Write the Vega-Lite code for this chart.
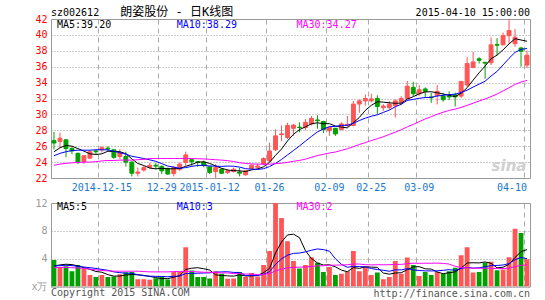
{
  "$schema": "https://vega.github.io/schema/vega-lite/v6.json",
  "background": "white",
  "padding": {"left": 30, "top": 5, "right": 5, "bottom": 0},
  "config": {
    "view": {"stroke": "#999999", "strokeWidth": 1},
    "axis": {"labelFont": "DejaVu Sans Mono", "labelFontSize": 10, "ticks": false, "domain": false, "title": null, "labelOverlap": false},
    "text": {"font": "DejaVu Sans Mono", "fontSize": 10}
  },
  "datasets": {
    "k": [
      {"d":"2014-12-03","o":26.7,"h":27.8,"l":25.6,"c":26.4,"v":3.8,"m5":25.3,"m10":24.8,"m30":23.6,"vm5":2.95,"vm10":2.95,"vm30":2.7},
      {"d":"2014-12-04","o":26.6,"h":27.7,"l":25.8,"c":27.0,"v":2.8,"m5":25.8,"m10":25.1,"m30":23.75,"vm5":3.1,"vm10":3.0,"vm30":2.75},
      {"d":"2014-12-05","o":26.8,"h":26.9,"l":24.6,"c":25.7,"v":2.9,"m5":26.1,"m10":25.3,"m30":23.85,"vm5":3.2,"vm10":3.05,"vm30":2.75},
      {"d":"2014-12-08","o":25.7,"h":25.95,"l":25.0,"c":25.4,"v":2.2,"m5":26.0,"m10":25.45,"m30":23.9,"vm5":3.15,"vm10":3.0,"vm30":2.7},
      {"d":"2014-12-09","o":25.1,"h":25.2,"l":23.75,"c":24.0,"v":3.1,"m5":25.7,"m10":25.5,"m30":23.95,"vm5":2.96,"vm10":2.9,"vm30":2.65},
      {"d":"2014-12-10","o":24.05,"h":24.9,"l":23.75,"c":24.8,"v":2.5,"m5":25.38,"m10":25.5,"m30":24.0,"vm5":2.7,"vm10":2.8,"vm30":2.6},
      {"d":"2014-12-11","o":24.5,"h":25.5,"l":24.4,"c":25.3,"v":1.65,"m5":25.04,"m10":25.5,"m30":24.0,"vm5":2.47,"vm10":2.7,"vm30":2.5},
      {"d":"2014-12-12","o":25.4,"h":25.6,"l":25.0,"c":25.3,"v":1.35,"m5":24.96,"m10":25.55,"m30":24.05,"vm5":2.16,"vm10":2.6,"vm30":2.4},
      {"d":"2014-12-15","o":25.55,"h":26.0,"l":25.2,"c":25.8,"v":1.65,"m5":25.04,"m10":25.55,"m30":24.15,"vm5":2.05,"vm10":2.45,"vm30":2.3},
      {"d":"2014-12-16","o":25.75,"h":26.0,"l":25.3,"c":25.65,"v":1.35,"m5":25.37,"m10":25.54,"m30":24.2,"vm5":1.7,"vm10":2.33,"vm30":2.25},
      {"d":"2014-12-17","o":25.55,"h":25.6,"l":24.4,"c":24.6,"v":1.45,"m5":25.33,"m10":25.36,"m30":24.2,"vm5":1.49,"vm10":2.1,"vm30":2.2},
      {"d":"2014-12-18","o":24.7,"h":25.6,"l":24.4,"c":25.2,"v":1.75,"m5":25.31,"m10":25.18,"m30":24.25,"vm5":1.51,"vm10":1.99,"vm30":2.2},
      {"d":"2014-12-19","o":24.7,"h":25.3,"l":23.45,"c":24.0,"v":2.05,"m5":25.05,"m10":25.0,"m30":24.25,"vm5":1.65,"vm10":1.91,"vm30":2.2},
      {"d":"2014-12-22","o":24.0,"h":24.1,"l":22.2,"c":22.6,"v":2.1,"m5":24.41,"m10":24.73,"m30":24.25,"vm5":1.74,"vm10":1.9,"vm30":2.2},
      {"d":"2014-12-23","o":22.6,"h":23.3,"l":22.2,"c":22.75,"v":1.05,"m5":23.83,"m10":24.6,"m30":24.3,"vm5":1.68,"vm10":1.69,"vm30":2.2},
      {"d":"2014-12-24","o":23.0,"h":23.5,"l":22.8,"c":23.3,"v":1.05,"m5":23.57,"m10":24.45,"m30":24.35,"vm5":1.6,"vm10":1.55,"vm30":2.15},
      {"d":"2014-12-25","o":23.35,"h":23.9,"l":23.2,"c":23.6,"v":0.98,"m5":23.25,"m10":24.28,"m30":24.45,"vm5":1.45,"vm10":1.48,"vm30":2.1},
      {"d":"2014-12-26","o":23.6,"h":23.9,"l":23.1,"c":23.5,"v":1.2,"m5":23.15,"m10":24.1,"m30":24.45,"vm5":1.28,"vm10":1.46,"vm30":2.1},
      {"d":"2014-12-29","o":23.45,"h":23.6,"l":22.5,"c":22.9,"v":1.4,"m5":23.21,"m10":23.81,"m30":24.45,"vm5":1.14,"vm10":1.44,"vm30":2.1},
      {"d":"2014-12-30","o":23.2,"h":23.3,"l":22.4,"c":22.5,"v":1.0,"m5":23.16,"m10":23.5,"m30":24.45,"vm5":1.13,"vm10":1.4,"vm30":2.1},
      {"d":"2014-12-31","o":22.55,"h":23.5,"l":22.2,"c":23.3,"v":2.1,"m5":23.16,"m10":23.37,"m30":24.45,"vm5":1.34,"vm10":1.47,"vm30":2.15},
      {"d":"2015-01-05","o":23.1,"h":23.95,"l":22.9,"c":23.75,"v":2.1,"m5":23.19,"m10":23.22,"m30":24.45,"vm5":1.56,"vm10":1.5,"vm30":2.15},
      {"d":"2015-01-06","o":23.95,"h":25.3,"l":23.55,"c":24.9,"v":5.65,"m5":23.47,"m10":23.31,"m30":24.45,"vm5":2.45,"vm10":1.86,"vm30":2.2},
      {"d":"2015-01-07","o":24.3,"h":24.4,"l":23.55,"c":24.05,"v":2.3,"m5":23.7,"m10":23.46,"m30":24.45,"vm5":2.63,"vm10":1.88,"vm30":2.15},
      {"d":"2015-01-08","o":24.05,"h":24.1,"l":23.4,"c":23.95,"v":1.35,"m5":23.99,"m10":23.58,"m30":24.42,"vm5":2.7,"vm10":1.91,"vm30":2.1},
      {"d":"2015-01-09","o":24.0,"h":24.2,"l":23.35,"c":23.55,"v":1.35,"m5":24.04,"m10":23.6,"m30":24.4,"vm5":2.55,"vm10":1.94,"vm30":2.05},
      {"d":"2015-01-12","o":23.4,"h":23.45,"l":22.5,"c":22.7,"v":1.15,"m5":23.83,"m10":23.51,"m30":24.35,"vm5":2.36,"vm10":1.96,"vm30":2.05},
      {"d":"2015-01-13","o":22.8,"h":23.75,"l":22.0,"c":23.3,"v":2.2,"m5":23.51,"m10":23.49,"m30":24.3,"vm5":1.67,"vm10":2.06,"vm30":2.0},
      {"d":"2015-01-14","o":23.1,"h":23.2,"l":22.5,"c":22.6,"v":1.85,"m5":23.22,"m10":23.46,"m30":24.25,"vm5":1.58,"vm10":2.1,"vm30":1.95},
      {"d":"2015-01-15","o":22.7,"h":23.1,"l":22.5,"c":22.9,"v":1.1,"m5":23.01,"m10":23.5,"m30":24.18,"vm5":1.53,"vm10":2.12,"vm30":1.95},
      {"d":"2015-01-16","o":22.8,"h":23.3,"l":22.7,"c":23.1,"v":1.15,"m5":22.92,"m10":23.48,"m30":24.07,"vm5":1.49,"vm10":2.02,"vm30":1.86},
      {"d":"2015-01-19","o":22.75,"h":23.3,"l":22.2,"c":22.6,"v":2.1,"m5":22.9,"m10":23.37,"m30":23.92,"vm5":1.68,"vm10":2.02,"vm30":1.84},
      {"d":"2015-01-20","o":22.4,"h":23.0,"l":22.3,"c":22.9,"v":1.35,"m5":22.82,"m10":23.17,"m30":23.83,"vm5":1.51,"vm10":1.59,"vm30":1.79},
      {"d":"2015-01-21","o":23.2,"h":23.7,"l":23.1,"c":23.6,"v":1.95,"m5":23.02,"m10":23.12,"m30":23.77,"vm5":1.53,"vm10":1.56,"vm30":1.78},
      {"d":"2015-01-22","o":23.35,"h":23.8,"l":23.2,"c":23.5,"v":1.45,"m5":23.14,"m10":23.08,"m30":23.75,"vm5":1.6,"vm10":1.57,"vm30":1.72},
      {"d":"2015-01-23","o":23.75,"h":24.6,"l":23.6,"c":24.45,"v":3.1,"m5":23.41,"m10":23.17,"m30":23.74,"vm5":1.99,"vm10":1.74,"vm30":1.74},
      {"d":"2015-01-26","o":24.15,"h":26.45,"l":23.95,"c":25.4,"v":5.1,"m5":23.97,"m10":23.44,"m30":23.74,"vm5":2.59,"vm10":2.14,"vm30":1.86},
      {"d":"2015-01-27","o":25.55,"h":28.1,"l":25.4,"c":27.3,"v":12.5,"m5":24.85,"m10":23.84,"m30":23.81,"vm5":4.82,"vm10":3.17,"vm30":2.23},
      {"d":"2015-01-28","o":27.45,"h":28.6,"l":26.65,"c":27.55,"v":9.85,"m5":25.64,"m10":24.33,"m30":23.87,"vm5":6.4,"vm10":3.97,"vm30":2.5},
      {"d":"2015-01-29","o":27.1,"h":28.95,"l":26.9,"c":28.6,"v":6.5,"m5":26.66,"m10":24.9,"m30":23.97,"vm5":7.41,"vm10":4.51,"vm30":2.67},
      {"d":"2015-01-30","o":28.25,"h":28.8,"l":27.3,"c":28.65,"v":3.65,"m5":27.5,"m10":25.46,"m30":24.1,"vm5":7.52,"vm10":4.76,"vm30":2.75},
      {"d":"2015-02-02","o":28.4,"h":29.0,"l":27.75,"c":28.35,"v":2.6,"m5":28.09,"m10":26.03,"m30":24.21,"vm5":7.02,"vm10":4.81,"vm30":2.78},
      {"d":"2015-02-03","o":28.35,"h":29.4,"l":28.0,"c":29.0,"v":3.1,"m5":28.43,"m10":26.64,"m30":24.37,"vm5":5.14,"vm10":4.98,"vm30":2.81},
      {"d":"2015-02-04","o":28.8,"h":29.8,"l":28.6,"c":29.5,"v":4.2,"m5":28.82,"m10":27.23,"m30":24.6,"vm5":4.01,"vm10":5.21,"vm30":2.88},
      {"d":"2015-02-05","o":29.3,"h":29.9,"l":28.2,"c":29.2,"v":3.4,"m5":28.94,"m10":27.8,"m30":24.82,"vm5":3.39,"vm10":5.4,"vm30":2.96},
      {"d":"2015-02-06","o":29.1,"h":29.2,"l":27.65,"c":28.1,"v":2.1,"m5":28.83,"m10":28.17,"m30":24.98,"vm5":3.08,"vm10":5.3,"vm30":2.99},
      {"d":"2015-02-09","o":27.95,"h":28.5,"l":27.3,"c":28.35,"v":2.8,"m5":28.83,"m10":28.46,"m30":25.14,"vm5":3.12,"vm10":5.07,"vm30":3.06},
      {"d":"2015-02-10","o":28.25,"h":28.3,"l":27.3,"c":27.55,"v":1.65,"m5":28.54,"m10":28.49,"m30":25.27,"vm5":2.83,"vm10":3.99,"vm30":3.07},
      {"d":"2015-02-11","o":28.1,"h":29.0,"l":28.0,"c":28.8,"v":1.85,"m5":28.4,"m10":28.61,"m30":25.47,"vm5":2.36,"vm10":3.19,"vm30":3.09},
      {"d":"2015-02-12","o":28.6,"h":29.8,"l":28.4,"c":28.75,"v":2.2,"m5":28.31,"m10":28.63,"m30":25.68,"vm5":2.12,"vm10":2.76,"vm30":3.13},
      {"d":"2015-02-13","o":28.6,"h":31.7,"l":28.5,"c":31.3,"v":5.1,"m5":28.95,"m10":28.89,"m30":25.94,"vm5":2.72,"vm10":2.9,"vm30":3.23},
      {"d":"2015-02-16","o":31.3,"h":31.9,"l":30.2,"c":31.7,"v":2.2,"m5":29.62,"m10":29.23,"m30":26.21,"vm5":2.6,"vm10":2.86,"vm30":3.23},
      {"d":"2015-02-17","o":31.7,"h":32.5,"l":31.1,"c":32.0,"v":2.8,"m5":30.51,"m10":29.53,"m30":26.44,"vm5":2.83,"vm10":2.83,"vm30":3.13},
      {"d":"2015-02-25","o":31.7,"h":32.6,"l":31.5,"c":31.95,"v":1.65,"m5":31.14,"m10":29.77,"m30":26.71,"vm5":2.79,"vm10":2.58,"vm30":3.11},
      {"d":"2015-02-26","o":32.0,"h":32.4,"l":30.0,"c":31.0,"v":2.0,"m5":31.59,"m10":29.95,"m30":26.94,"vm5":2.75,"vm10":2.44,"vm30":3.13},
      {"d":"2015-02-27","o":30.85,"h":31.3,"l":30.45,"c":31.05,"v":1.05,"m5":31.54,"m10":30.25,"m30":27.19,"vm5":1.94,"vm10":2.33,"vm30":3.12},
      {"d":"2015-03-02","o":30.85,"h":31.7,"l":30.6,"c":31.3,"v":1.35,"m5":31.46,"m10":30.54,"m30":27.48,"vm5":1.77,"vm10":2.19,"vm30":3.13},
      {"d":"2015-03-03","o":31.1,"h":31.9,"l":29.6,"c":31.7,"v":3.65,"m5":31.4,"m10":30.96,"m30":27.76,"vm5":1.94,"vm10":2.39,"vm30":3.18},
      {"d":"2015-03-04","o":31.5,"h":32.3,"l":31.2,"c":32.0,"v":1.85,"m5":31.41,"m10":31.28,"m30":28.07,"vm5":1.98,"vm10":2.39,"vm30":3.18},
      {"d":"2015-03-05","o":32.0,"h":34.2,"l":31.9,"c":33.55,"v":4.15,"m5":31.92,"m10":31.76,"m30":28.43,"vm5":2.41,"vm10":2.58,"vm30":3.28},
      {"d":"2015-03-06","o":33.4,"h":34.1,"l":32.3,"c":32.6,"v":3.1,"m5":32.23,"m10":31.89,"m30":28.74,"vm5":2.82,"vm10":2.38,"vm30":3.35},
      {"d":"2015-03-09","o":32.6,"h":33.7,"l":32.3,"c":33.1,"v":1.5,"m5":32.59,"m10":32.03,"m30":29.09,"vm5":2.85,"vm10":2.31,"vm30":3.33},
      {"d":"2015-03-10","o":33.2,"h":33.4,"l":32.1,"c":32.9,"v":2.1,"m5":32.83,"m10":32.12,"m30":29.43,"vm5":2.54,"vm10":2.24,"vm30":3.35},
      {"d":"2015-03-11","o":32.2,"h":32.7,"l":31.45,"c":32.1,"v":1.65,"m5":32.85,"m10":32.13,"m30":29.71,"vm5":2.5,"vm10":2.24,"vm30":3.34},
      {"d":"2015-03-12","o":32.35,"h":33.7,"l":31.25,"c":32.9,"v":2.1,"m5":32.72,"m10":32.32,"m30":30.02,"vm5":2.09,"vm10":2.25,"vm30":3.36},
      {"d":"2015-03-13","o":32.3,"h":32.7,"l":31.6,"c":31.85,"v":1.85,"m5":32.57,"m10":32.4,"m30":30.27,"vm5":1.84,"vm10":2.33,"vm30":3.32},
      {"d":"2015-03-16","o":32.3,"h":32.9,"l":31.8,"c":32.2,"v":2.2,"m5":32.39,"m10":32.49,"m30":30.5,"vm5":1.98,"vm10":2.42,"vm30":3.22},
      {"d":"2015-03-17","o":32.45,"h":32.75,"l":31.0,"c":32.2,"v":2.7,"m5":32.25,"m10":32.54,"m30":30.66,"vm5":2.1,"vm10":2.32,"vm30":2.9},
      {"d":"2015-03-18","o":32.3,"h":34.2,"l":32.05,"c":34.15,"v":4.5,"m5":32.66,"m10":32.76,"m30":30.88,"vm5":2.67,"vm10":2.59,"vm30":2.72},
      {"d":"2015-03-19","o":33.7,"h":37.2,"l":33.5,"c":36.4,"v":5.65,"m5":33.36,"m10":33.04,"m30":31.14,"vm5":3.38,"vm10":2.74,"vm30":2.69},
      {"d":"2015-03-20","o":35.9,"h":37.85,"l":35.8,"c":36.6,"v":2.0,"m5":34.31,"m10":33.44,"m30":31.41,"vm5":3.41,"vm10":2.63,"vm30":2.64},
      {"d":"2015-03-23","o":37.0,"h":37.2,"l":36.4,"c":36.8,"v":2.1,"m5":35.23,"m10":33.81,"m30":31.69,"vm5":3.39,"vm10":2.69,"vm30":2.62},
      {"d":"2015-03-24","o":36.55,"h":36.6,"l":34.5,"c":36.45,"v":3.4,"m5":36.08,"m10":34.17,"m30":31.94,"vm5":3.53,"vm10":2.82,"vm30":2.63},
      {"d":"2015-03-25","o":36.5,"h":39.7,"l":36.2,"c":38.75,"v":3.55,"m5":37.0,"m10":34.83,"m30":32.24,"vm5":3.34,"vm10":3.0,"vm30":2.61},
      {"d":"2015-03-26","o":38.8,"h":39.6,"l":37.4,"c":38.7,"v":2.35,"m5":37.46,"m10":35.41,"m30":32.56,"vm5":2.68,"vm10":3.03,"vm30":2.57},
      {"d":"2015-03-27","o":38.75,"h":40.3,"l":38.7,"c":39.9,"v":2.45,"m5":38.12,"m10":36.22,"m30":32.95,"vm5":2.77,"vm10":3.09,"vm30":2.58},
      {"d":"2015-04-07","o":39.9,"h":42.0,"l":38.9,"c":40.55,"v":4.2,"m5":38.87,"m10":37.05,"m30":33.36,"vm5":3.19,"vm10":3.29,"vm30":2.63},
      {"d":"2015-04-08","o":38.9,"h":40.75,"l":38.5,"c":39.7,"v":8.3,"m5":39.52,"m10":37.8,"m30":33.77,"vm5":4.17,"vm10":3.85,"vm30":2.85},
      {"d":"2015-04-09","o":38.35,"h":38.5,"l":36.0,"c":37.95,"v":7.7,"m5":39.36,"m10":38.18,"m30":34.07,"vm5":5.0,"vm10":4.17,"vm30":3.05},
      {"d":"2015-04-10","o":36.2,"h":38.05,"l":35.8,"c":37.45,"v":3.9,"m5":39.2,"m10":38.29,"m30":34.27,"vm5":5.31,"vm10":4.0,"vm30":3.1}
    ]
  },
  "spacing": 25,
  "bounds": "flush",
  "resolve": {"scale": {"x": "independent", "y": "independent", "color": "independent"}},
  "vconcat": [
    {
      "width": 479,
      "height": 159,
      "data": {"name": "k"},
      "encoding": {
        "x": {
          "field": "d", "type": "ordinal",
          "scale": {"paddingInner": 0, "paddingOuter": 0},
          "axis": {
            "values": ["2014-12-15","2014-12-29","2015-01-12","2015-01-26","2015-02-09","2015-02-25","2015-03-09","2015-04-10"],
            "labelExpr": "datum.value == '2014-12-15' || datum.value == '2015-01-12' ? datum.value : slice(datum.value, 5)",
            "labelColor": "#1a78d0", "labelAngle": 0, "labelPadding": 4, "labelFlush": 10, "labelOverlap": false,
            "bandPosition": 0, "grid": true, "gridDash": [5, 4], "gridColor": "#aaaaaa"
          }
        }
      },
      "layer": [
        {
          "mark": {"type": "rule", "strokeWidth": 1},
          "encoding": {
            "y": {"field": "l", "type": "quantitative",
              "scale": {"domain": [22, 42], "nice": false, "zero": false},
              "axis": {"values": [22,24,26,28,30,32,34,36,38,40,42], "tickCount": 30, "format": ".0f", "labelColor": "#ff0000", "labelPadding": 4, "labelOverlap": false,
                "grid": true, "gridDash": [1, 2], "gridColor": "#999999"}},
            "y2": {"field": "h"},
            "color": {"condition": {"test": "datum.c >= datum.o", "value": "#ff5555"}, "value": "#00a000"}
          }
        },
        {
          "mark": {"type": "bar", "width": {"band": 0.65}, "strokeWidth": 1},
          "encoding": {
            "y": {"field": "o", "type": "quantitative"},
            "y2": {"field": "c"},
            "color": {"condition": {"test": "datum.c >= datum.o", "value": "#ff5555"}, "value": "#00a000"},
            "stroke": {"condition": {"test": "datum.c >= datum.o", "value": "#ff5555"}, "value": "#00a000"}
          }
        },
        {
          "transform": [{"fold": ["m5", "m10", "m30"], "as": ["s", "val"]}],
          "mark": {"type": "line", "strokeWidth": 1},
          "encoding": {
            "y": {"field": "val", "type": "quantitative"},
            "color": {"field": "s", "type": "nominal",
              "scale": {"domain": ["m5", "m10", "m30"], "range": ["#000000", "#0000ff", "#ff00ff"]}, "legend": null}
          }
        },
        {
          "data": {"values": [
            {"t": "MA5:39.20", "s": "m5", "d": "2014-12-04"},
            {"t": "MA10:38.29", "s": "m10", "d": "2015-01-05"},
            {"t": "MA30:34.27", "s": "m30", "d": "2015-02-02"}
          ]},
          "mark": {"type": "text", "align": "left", "baseline": "middle", "fontSize": 10},
          "encoding": {
            "x": {"field": "d", "type": "ordinal", "bandPosition": 0},
            "y": {"datum": 41.23, "type": "quantitative"},
            "text": {"field": "t"},
            "color": {"field": "s", "type": "nominal", "legend": null}
          }
        },
        {
          "data": {"values": [{"t": "sz002612", "d": "2014-12-03"}]},
          "mark": {"type": "text", "align": "left", "baseline": "middle", "fontSize": 10, "color": "#000000"},
          "encoding": {
            "x": {"field": "d", "type": "ordinal", "bandPosition": 0},
            "y": {"datum": 42.8, "type": "quantitative"},
            "text": {"field": "t"}
          }
        },
        {
          "data": {"values": [{"t": "朗姿股份 - 日K线图", "d": "2015-01-05"}]},
          "mark": {"type": "text", "align": "center", "baseline": "middle", "font": "DejaVu Sans Mono, Noto Sans CJK SC", "fontSize": 12, "color": "#000000"},
          "encoding": {
            "x": {"field": "d", "type": "ordinal", "bandPosition": 0},
            "y": {"datum": 42.85, "type": "quantitative"},
            "text": {"field": "t"}
          }
        },
        {
          "data": {"values": [{"t": "2015-04-10 15:00:00", "d": "2015-04-10"}]},
          "mark": {"type": "text", "align": "right", "baseline": "middle", "fontSize": 10, "color": "#000000"},
          "encoding": {
            "x": {"field": "d", "type": "ordinal", "bandPosition": 1},
            "y": {"datum": 42.75, "type": "quantitative"},
            "text": {"field": "t"}
          }
        },
        {
          "data": {"values": [{"t": "sina", "d": "2015-04-07"}]},
          "mark": {"type": "text", "align": "center", "baseline": "middle", "font": "DejaVu Sans", "fontSize": 15, "fontStyle": "italic", "fontWeight": "bold", "color": "#d0d0d0"},
          "encoding": {
            "x": {"field": "d", "type": "ordinal"},
            "y": {"datum": 23.5, "type": "quantitative"},
            "text": {"field": "t"}
          }
        }
      ]
    },
    {
      "width": 479,
      "height": 83.5,
      "data": {"name": "k"},
      "encoding": {
        "x": {
          "field": "d", "type": "ordinal",
          "scale": {"paddingInner": 0, "paddingOuter": 0},
          "axis": {
            "values": ["2014-12-15","2014-12-29","2015-01-12","2015-01-26","2015-02-09","2015-02-25","2015-03-09","2015-04-10"],
            "labels": false, "bandPosition": 0, "grid": true, "gridDash": [5, 4], "gridColor": "#aaaaaa"
          }
        }
      },
      "layer": [
        {
          "mark": {"type": "bar", "width": {"band": 0.8}, "clip": true},
          "encoding": {
            "y": {"field": "v", "type": "quantitative",
              "scale": {"domain": [0, 12], "nice": false},
              "axis": {"values": [0, 4, 8, 12], "tickCount": 30, "format": ".0f", "labelExpr": "datum.value == 0 ? 'x万' : format(datum.value, '.0f')",
                "labelColor": "#999999", "labelPadding": 4, "labelOverlap": false, "grid": true, "gridDash": [1, 2], "gridColor": "#999999"}},
            "color": {"condition": {"test": "datum.c >= datum.o", "value": "#ff5555"}, "value": "#00a000"}
          }
        },
        {
          "transform": [{"fold": ["vm5", "vm10", "vm30"], "as": ["s", "val"]}],
          "mark": {"type": "line", "strokeWidth": 1},
          "encoding": {
            "y": {"field": "val", "type": "quantitative"},
            "color": {"field": "s", "type": "nominal",
              "scale": {"domain": ["vm5", "vm10", "vm30"], "range": ["#000000", "#0000ff", "#ff00ff"]}, "legend": null}
          }
        },
        {
          "data": {"values": [
            {"t": "MA5:5", "s": "vm5", "d": "2014-12-04"},
            {"t": "MA10:3", "s": "vm10", "d": "2015-01-05"},
            {"t": "MA30:2", "s": "vm30", "d": "2015-02-02"}
          ]},
          "mark": {"type": "text", "align": "left", "baseline": "middle", "fontSize": 10},
          "encoding": {
            "x": {"field": "d", "type": "ordinal", "bandPosition": 0},
            "y": {"datum": 11.38, "type": "quantitative"},
            "text": {"field": "t"},
            "color": {"field": "s", "type": "nominal", "legend": null}
          }
        },
        {
          "data": {"values": [{"t": "Copyright 2015 SINA.COM", "d": "2014-12-03"}]},
          "mark": {"type": "text", "align": "left", "baseline": "middle", "fontSize": 10, "color": "#555555"},
          "encoding": {
            "x": {"field": "d", "type": "ordinal", "bandPosition": 0},
            "y": {"datum": -0.98, "type": "quantitative"},
            "text": {"field": "t"}
          }
        },
        {
          "data": {"values": [{"t": "http://finance.sina.com.cn", "d": "2015-04-10"}]},
          "mark": {"type": "text", "align": "right", "baseline": "middle", "fontSize": 10, "color": "#555555"},
          "encoding": {
            "x": {"field": "d", "type": "ordinal", "bandPosition": 1},
            "y": {"datum": -1.05, "type": "quantitative"},
            "text": {"field": "t"}
          }
        }
      ]
    }
  ]
}
